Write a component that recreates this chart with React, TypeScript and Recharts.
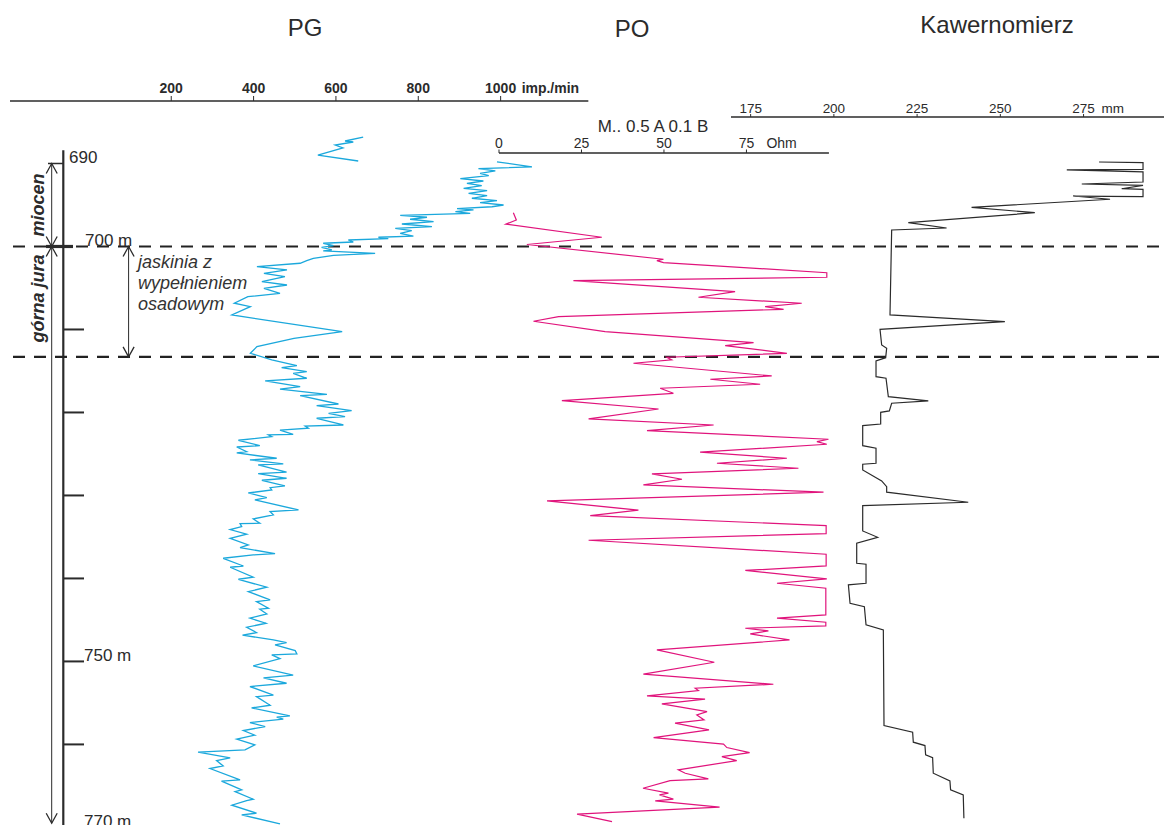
import { ScatterChart, Scatter, XAxis, YAxis, ReferenceLine } from 'recharts';

// [depth m, reading]
type Row = [number, number];

// natural gamma (PG), imp./min – short upper run logged separately
const PG_TOP: Row[] = [
  [686.81, 667], [687.29, 623], [687.41, 643], [687.77, 599], [688.13, 618], [688.98, 557], [689.7, 655],
];

const PG_LOG: Row[] = [
  [689.8, 992], [690.4, 1077], [690.63, 947], [690.9, 988], [691.18, 951], [691.47, 972], [691.83, 903],
  [692.11, 959], [692.39, 919], [692.67, 955], [692.99, 911], [693.28, 968], [693.59, 923], [693.88, 968],
  [694.19, 931], [694.48, 992], [694.72, 951], [695.0, 1008], [695.21, 980], [695.45, 895], [695.6, 935],
  [695.81, 891], [696.0, 927], [696.24, 757], [696.48, 822], [696.72, 781], [697.01, 838], [697.29, 761],
  [697.61, 834], [697.81, 745], [698.1, 785], [698.41, 757], [698.74, 789], [698.89, 704], [699.06, 728],
  [699.22, 631], [699.46, 643], [699.61, 570], [699.9, 595], [700.1, 566], [700.42, 591], [700.54, 570],
  [700.82, 696], [701.06, 595], [701.42, 546], [701.71, 530], [702.02, 514], [702.43, 409], [702.83, 482],
  [703.23, 426], [703.64, 477], [704.24, 421], [704.64, 482], [705.04, 426], [705.64, 465], [706.05, 387],
  [706.84, 354], [707.25, 393], [708.25, 348], [710.26, 616], [711.06, 499], [712.07, 409], [712.87, 393],
  [713.67, 445], [714.36, 506], [714.6, 469], [715.08, 530], [715.28, 497], [715.88, 530], [716.2, 429],
  [716.89, 514], [717.2, 465], [717.81, 579], [717.98, 514], [718.98, 607], [719.18, 554], [719.78, 639],
  [720.1, 583], [720.51, 623], [720.7, 554], [721.51, 619], [721.63, 526], [721.9, 534], [722.14, 465],
  [722.63, 497], [722.71, 437], [722.92, 445], [723.35, 364], [724.0, 416], [724.16, 360], [724.72, 384],
  [724.88, 360], [725.52, 457], [725.72, 392], [726.2, 473], [726.32, 412], [727.2, 481], [727.37, 412],
  [727.93, 481], [728.17, 421], [728.85, 477], [729.06, 441], [729.34, 445], [729.7, 388], [730.26, 433],
  [730.54, 404], [731.75, 510], [731.95, 441], [732.35, 449], [732.83, 400], [733.35, 416], [733.4, 368],
  [733.76, 372], [734.12, 344], [734.67, 384], [735.16, 344], [735.96, 388], [736.29, 368], [737.01, 453],
  [737.17, 400], [737.57, 327], [738.5, 376], [738.65, 344], [739.85, 400], [740.1, 364], [741.06, 433],
  [741.59, 388], [742.59, 441], [742.79, 408], [743.59, 437], [743.71, 416], [744.28, 433], [744.79, 392],
  [745.4, 431], [745.88, 384], [746.53, 408], [746.84, 374], [747.41, 449], [747.73, 481], [748.01, 453],
  [748.7, 502], [749.1, 506], [749.22, 445], [749.66, 465], [750.54, 400], [751.66, 497], [751.99, 425],
  [752.63, 481], [753.03, 392], [754.07, 449], [754.24, 408], [755.28, 441], [755.6, 396], [756.57, 489],
  [756.72, 457], [756.96, 473], [757.37, 392], [757.85, 429], [758.33, 376], [758.89, 404], [759.37, 360],
  [760.06, 404], [760.66, 380], [760.94, 266], [761.62, 344], [761.95, 311], [762.59, 327], [762.91, 295],
  [764.27, 368], [764.43, 323], [765.48, 372], [765.68, 356], [766.6, 400], [766.77, 384], [767.32, 348],
  [768.29, 408], [768.49, 372], [769.58, 465],
];

// resistivity (PO), Ohm
const PO_LOG: Row[] = [
  [695.93, 4.5], [696.81, 5.4], [697.31, 2.2], [698.89, 31.3], [699.76, 8.6], [701.54, 50.0], [701.71, 48.0],
  [701.95, 50.0], [703.16, 99.5], [703.71, 99.5], [704.12, 22.7], [705.45, 71.7], [706.12, 60.6], [706.84, 91.9],
  [707.25, 80.8], [707.57, 86.4], [708.46, 18.2], [709.01, 10.6], [710.26, 32.3], [711.59, 77.3], [711.95, 68.7],
  [712.87, 87.4], [713.34, 51.0], [713.67, 52.5], [714.07, 40.9], [715.6, 82.8], [716.0, 64.2], [716.6, 79.3],
  [717.08, 49.0], [717.69, 53.0], [718.58, 19.2], [719.58, 48.5], [720.78, 27.3], [721.51, 65.2], [722.19, 45.0],
  [723.23, 100.0], [723.52, 96.5], [723.83, 99.5], [724.79, 61.1], [725.52, 87.4], [726.12, 66.2], [726.72, 90.9],
  [727.41, 46.5], [728.05, 55.6], [728.73, 43.9], [729.61, 98.5], [730.66, 14.7], [731.78, 42.4], [732.43, 27.8],
  [733.64, 99.3], [734.6, 99.3], [735.4, 27.3], [737.08, 99.3], [738.49, 99.3], [739.04, 74.8], [740.06, 99.5],
  [740.58, 84.4], [741.18, 99.2], [744.4, 99.2], [744.79, 84.4], [745.28, 99.2], [745.72, 99.2], [746.0, 74.8],
  [746.32, 81.8], [746.69, 76.3], [747.41, 88.2], [748.61, 48.0], [750.1, 65.4], [751.54, 43.9], [752.75, 83.3],
  [753.23, 59.6], [753.52, 60.6], [754.16, 45.0], [754.55, 62.6], [755.12, 49.5], [756.05, 63.2], [756.45, 60.1],
  [757.05, 62.3], [757.44, 53.5], [758.25, 63.8], [759.18, 47.0], [759.97, 68.2], [760.38, 69.2], [760.99, 76.1],
  [761.47, 67.7], [761.95, 72.2], [763.07, 54.5], [763.47, 56.6], [764.16, 63.6], [764.36, 52.0], [765.28, 43.8],
  [765.88, 51.5], [766.08, 48.8], [766.6, 53.0], [766.81, 47.5], [767.56, 67.0], [768.41, 23.8], [769.3, 34.4],
];

// caliper (Kawernomierz), mm
const KW_LOG: Row[] = [
  [689.82, 279.7], [689.9, 292.9], [690.7, 292.9], [690.78, 270.0], [691.02, 292.9], [692.23, 292.9],
  [692.47, 274.5], [692.63, 292.9], [693.04, 286.5], [693.11, 292.9], [694.0, 292.9], [693.92, 271.9],
  [694.31, 283.0], [695.28, 241.4], [695.93, 260.4], [697.13, 222.4], [697.77, 233.9], [698.01, 217.4],
  [708.25, 216.9], [709.06, 251.4], [709.98, 213.9], [711.87, 214.4], [712.26, 215.9], [713.4, 215.6],
  [713.79, 212.7], [715.69, 212.7], [715.88, 215.7], [718.1, 216.4], [718.61, 228.4], [718.89, 217.4],
  [719.82, 216.7], [719.98, 214.1], [721.39, 214.1], [721.59, 208.7], [724.0, 208.7], [724.31, 212.7],
  [726.12, 212.7], [726.24, 208.7], [726.93, 208.7], [728.25, 214.4], [728.94, 215.9], [729.61, 215.9],
  [730.82, 240.4], [731.23, 208.7], [734.28, 208.7], [735.04, 213.2], [735.76, 206.9], [738.17, 206.9],
  [738.29, 209.7], [740.58, 209.7], [740.78, 204.4], [742.99, 204.9], [743.4, 209.2], [745.6, 209.7],
  [746.2, 214.9], [757.73, 215.1], [758.53, 223.7], [759.73, 223.9], [760.14, 227.4], [761.26, 227.6],
  [761.59, 229.7], [763.47, 229.9], [764.4, 234.9], [765.48, 235.1], [766.08, 238.9], [768.89, 239.1],
];

const DEPTH_TICKS = [690, 700, 710, 720, 730, 740, 750, 760, 770];
const DEPTH_LABELS: Record<number, string> = { 690: '690', 700: '700 m', 750: '750 m', 770: '770 m' };
const PG_TICKS = [200, 400, 600, 800, 1000];
const PO_TICKS = [0, 25, 50, 75];
const KW_TICKS = [175, 200, 225, 250, 275];
// stratigraphic boundaries (dashed)
const BOUNDARIES = [700, 713.3];

const CYAN = '#1ba8dc';
const MAGENTA = '#e0147c';
const INK = '#2b2b2b';
const FONT = 'Arial, "Liberation Sans", Helvetica, sans-serif';

const W = 1164;
const H = 844;
const AXIS_W = 63; // depth axis band, plot starts at its right edge
const PLOT_TOP = 122;

const DEPTH_DOMAIN: [number, number] = [685, 772];
const FRAME: [number, number] = [AXIS_W, W];
const PG_DOMAIN: [number, number] = [-62, 2612];
const PO_DOMAIN: [number, number] = [-132, 201.7];
const KW_DOMAIN: [number, number] = [-31.5, 299.2];

const toPoints = (rows: Row[]) => rows.map(([d, v]) => ({ d, v }));
const noDot = () => <g />;
// invisible corner points so that a layout-only axis gets a scale
const anchors = (x: [number, number], y: [number, number]) => [
  { v: x[0], d: y[0] },
  { v: x[1], d: y[1] },
];

function DepthTick({ x = 0, y = 0, payload }: any) {
  const d = payload?.value as number;
  const label = DEPTH_LABELS[d];
  const txt = (tx: number) =>
    label ? (
      <text x={tx} y={y} fontFamily={FONT} fontSize={17} fill={INK}>
        {label}
      </text>
    ) : null;
  if (d === 690) {
    return (
      <g>
        <line x1={x - 15} x2={x} y1={y} y2={y} stroke={INK} strokeWidth={1.5} />
        {txt(x + 6)}
      </g>
    );
  }
  if (d === 700) {
    return (
      <g>
        <line x1={x - 17} x2={x + 10} y1={y} y2={y} stroke={INK} strokeWidth={3.2} />
        {txt(x + 22)}
      </g>
    );
  }
  return (
    <g>
      <line x1={x} x2={x + 21} y1={y} y2={y} stroke={INK} strokeWidth={2} />
      {txt(x + 21)}
    </g>
  );
}

type SegProps = { x1?: number; y1?: number; x2?: number; y2?: number };

// double-headed vertical arrow with an optional rotated caption or side note
function SpanArrow({
  x1 = 0, y1 = 0, y2 = 0, title, titleAt, notes,
}: SegProps & { title?: string; titleAt?: number; notes?: string[] }) {
  const head = 10;
  const half = 5.5;
  const ty = titleAt == null ? (y1 + y2) / 2 : y1 + titleAt;
  return (
    <g>
      <line x1={x1} y1={y1} x2={x1} y2={y2} stroke={INK} strokeWidth={1} />
      <polyline points={`${x1 - half},${y1 + head} ${x1},${y1} ${x1 + half},${y1 + head}`} fill="none" stroke={INK} strokeWidth={1.3} />
      <polyline points={`${x1 - half},${y2 - head} ${x1},${y2} ${x1 + half},${y2 - head}`} fill="none" stroke={INK} strokeWidth={1.3} />
      {title && (
        <text transform={`translate(${x1 - 8} ${ty}) rotate(-90)`} textAnchor="middle" fontFamily={FONT}
          fontSize={18} fontWeight="bold" fontStyle="italic" fill={INK}>
          {title}
        </text>
      )}
      {notes && (
        <text fontFamily={FONT} fontSize={18} fontStyle="italic" fill="#333">
          {notes.map((n, i) => (
            <tspan key={n} x={x1 + 9.5} y={y1 + 21.5 + i * 21}>{n}</tspan>
          ))}
        </text>
      )}
    </g>
  );
}

type ScaleCfg = {
  domain: [number, number];
  lo: number;
  hi: number;
  lineY: number;
  ticks: number[];
  suffix: string;
  suffixDx: number;
  size: number;
  weight: string;
  tickSize: number;
  tickMargin: number;
};

function ScaleTick({ x = 0, y = 0, payload, cfg }: any) {
  const c = cfg as ScaleCfg;
  const last = c.ticks[c.ticks.length - 1];
  return (
    <g>
      <text x={x} y={y} textAnchor="middle" fontFamily={FONT} fontSize={c.size} fontWeight={c.weight} fill={INK}>
        {payload.value}
      </text>
      {payload.value === last && (
        <text x={x + c.suffixDx} y={y} fontFamily={FONT} fontSize={c.size} fontWeight={c.weight} fill={INK}>
          {c.suffix}
        </text>
      )}
    </g>
  );
}

// header scale drawn over the span [lo, hi] of a curve's axis
function TopScale({ cfg }: { cfg: ScaleCfg }) {
  const [d0, d1] = cfg.domain;
  const px = (v: number) => AXIS_W + ((v - d0) / (d1 - d0)) * (W - AXIS_W);
  const left = px(cfg.lo);
  const right = px(cfg.hi);
  const band = 40;
  const padL = 20;
  const padR = 70;
  return (
    <div style={{ position: 'absolute', left: left - padL, top: cfg.lineY - band }}>
      <ScatterChart width={right - left + padL + padR} height={band + 6} margin={{ top: 0, right: padR, bottom: 4, left: padL }}>
        <XAxis type="number" dataKey="v" orientation="top" height={band} domain={[cfg.lo, cfg.hi]} allowDataOverflow
          ticks={cfg.ticks} interval={0} tickSize={cfg.tickSize} tickMargin={cfg.tickMargin}
          axisLine={{ stroke: INK, strokeWidth: 1.3 }} tickLine={{ stroke: INK, strokeWidth: 1 }}
          tick={(p: any) => <ScaleTick {...p} cfg={cfg} />} />
        <YAxis type="number" dataKey="d" domain={[0, 1]} allowDataOverflow hide />
        <Scatter data={anchors([cfg.lo, cfg.hi], [0, 1])} shape={noDot} isAnimationActive={false} />
      </ScatterChart>
    </div>
  );
}

const PG_SCALE: ScaleCfg = {
  domain: PG_DOMAIN, lo: -191.6, hi: 1213, lineY: 100.7, ticks: PG_TICKS,
  suffix: 'imp./min', suffixDx: 21, size: 14, weight: 'bold', tickSize: 5, tickMargin: 3,
};
const PO_SCALE: ScaleCfg = {
  domain: PO_DOMAIN, lo: 0, hi: 100, lineY: 152.7, ticks: PO_TICKS,
  suffix: 'Ohm', suffixDx: 20, size: 14, weight: 'normal', tickSize: 3.5, tickMargin: 1,
};
const KW_SCALE: ScaleCfg = {
  domain: KW_DOMAIN, lo: 169.1, hi: 299.2, lineY: 116.7, ticks: KW_TICKS,
  suffix: 'mm', suffixDx: 18, size: 13.5, weight: 'normal', tickSize: 3, tickMargin: 0.5,
};

const titleStyle = (cx: number, top: number): React.CSSProperties => ({
  position: 'absolute', left: cx - 120, top, width: 240, textAlign: 'center',
  fontFamily: FONT, fontSize: 24, lineHeight: '28px', color: INK,
});

export default function App() {
  return (
    <div style={{ position: 'absolute', left: 0, top: 0, width: W, height: 825, overflow: 'hidden', background: '#fff' }}>
      <div style={titleStyle(305, 13.7)}>PG</div>
      <div style={titleStyle(632, 14.7)}>PO</div>
      <div style={titleStyle(997, 10.7)}>Kawernomierz</div>
      <div style={{ position: 'absolute', left: 553, top: 116.5, width: 200, textAlign: 'center', fontFamily: FONT, fontSize: 17, lineHeight: '20px', color: INK }}>
        M.. 0.5 A 0.1 B
      </div>

      <div style={{ position: 'absolute', left: 0, top: 0 }}>
        <ScatterChart width={W} height={H} margin={{ top: PLOT_TOP, right: 0, bottom: 0, left: 0 }}>
          <XAxis xAxisId="frame" type="number" dataKey="v" domain={FRAME} allowDataOverflow hide />
          <XAxis xAxisId="pg" type="number" dataKey="v" domain={PG_DOMAIN} allowDataOverflow hide />
          <XAxis xAxisId="po" type="number" dataKey="v" domain={PO_DOMAIN} allowDataOverflow hide />
          <XAxis xAxisId="kw" type="number" dataKey="v" domain={KW_DOMAIN} allowDataOverflow hide />
          <YAxis yAxisId="depth" type="number" dataKey="d" domain={DEPTH_DOMAIN} allowDataOverflow reversed
            width={AXIS_W} ticks={DEPTH_TICKS} interval={0} tickSize={0} tickMargin={0}
            tickLine={false} axisLine={false} tick={(p: any) => <DepthTick {...p} />} />

          <Scatter xAxisId="frame" yAxisId="depth" data={anchors(FRAME, DEPTH_DOMAIN)} shape={noDot} isAnimationActive={false} />

          <Scatter xAxisId="pg" yAxisId="depth" data={toPoints(PG_TOP)} fill={CYAN} shape={noDot}
            line={{ stroke: CYAN, strokeWidth: 1.3 }} isAnimationActive={false} />
          <Scatter xAxisId="pg" yAxisId="depth" data={toPoints(PG_LOG)} fill={CYAN} shape={noDot}
            line={{ stroke: CYAN, strokeWidth: 1.3 }} isAnimationActive={false} />
          <Scatter xAxisId="po" yAxisId="depth" data={toPoints(PO_LOG)} fill={MAGENTA} shape={noDot}
            line={{ stroke: MAGENTA, strokeWidth: 1.2 }} isAnimationActive={false} />
          <Scatter xAxisId="kw" yAxisId="depth" data={toPoints(KW_LOG)} fill={INK} shape={noDot}
            line={{ stroke: INK, strokeWidth: 1.2 }} isAnimationActive={false} />

          {/* depth axis line */}
          <ReferenceLine xAxisId="frame" yAxisId="depth" ifOverflow="visible"
            segment={[{ x: 63.3, y: 688.4 }, { x: 63.3, y: 772 }]} stroke={INK} strokeWidth={2.2} />

          {BOUNDARIES.map((d) => (
            <ReferenceLine key={d} xAxisId="frame" yAxisId="depth" ifOverflow="visible"
              segment={[{ x: 13, y: d }, { x: W, y: d }]} stroke="#222" strokeWidth={2.2} strokeDasharray="12 9" />
          ))}

          <ReferenceLine xAxisId="frame" yAxisId="depth" ifOverflow="visible"
            segment={[{ x: 51.7, y: 690 }, { x: 51.7, y: 700 }]}
            shape={(p: any) => <SpanArrow {...p} title="miocen" />} />
          <ReferenceLine xAxisId="frame" yAxisId="depth" ifOverflow="visible"
            segment={[{ x: 51.7, y: 700 }, { x: 51.7, y: 769.5 }]}
            shape={(p: any) => <SpanArrow {...p} title="górna jura" titleAt={52} />} />
          <ReferenceLine xAxisId="frame" yAxisId="depth" ifOverflow="visible"
            segment={[{ x: 128.6, y: 700 }, { x: 128.6, y: 713.3 }]}
            shape={(p: any) => <SpanArrow {...p} notes={['jaskinia z', 'wypełnieniem', 'osadowym']} />} />
        </ScatterChart>
      </div>

      <TopScale cfg={PG_SCALE} />
      <TopScale cfg={KW_SCALE} />
      <TopScale cfg={PO_SCALE} />
    </div>
  );
}
